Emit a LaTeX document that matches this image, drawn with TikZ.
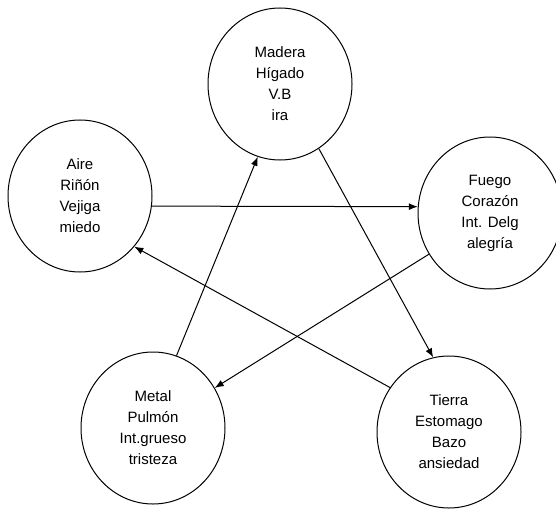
\documentclass[tikz,border=0pt]{standalone}
\usepackage{fontspec}
\setmainfont{Liberation Sans}
\usetikzlibrary{shapes.geometric,arrows.meta}

\begin{document}
\begin{tikzpicture}[x=1pt,y=-1pt,
  elemento/.style={draw,ellipse,line width=1pt,minimum width=144pt,minimum height=152pt,
    inner sep=0pt,align=center,font=\fontsize{15}{21}\selectfont},
  flecha/.style={line width=1pt,-{Latex[length=9pt,width=7pt]}}]
\useasboundingbox (0,0) rectangle (556,508);
% los cinco elementos
\node[elemento] (madera) at (280,84) {Madera\\Hígado\\V.B\\ira};
\node[elemento] (aire) at (80,196) {Aire\\Riñón\\Vejiga\\miedo};
\node[elemento] (fuego) at (490,213) {Fuego\\Corazón\\Int. Delg\\alegría};
\node[elemento] (metal) at (153,428) {Metal\\Pulmón\\Int.grueso\\tristeza};
\node[elemento] (tierra) at (449,432) {Tierra\\Estomago\\Bazo\\ansiedad};
% flechas
\draw[flecha] (aire.-8) -- (fuego.175);
\draw[flecha] (madera.-59) -- (tierra.102);
\draw[flecha] (fuego.214) -- (metal.33);
\draw[flecha] (metal.72) -- (madera.253);
\draw[flecha] (tierra.143) -- (aire.-43);
\end{tikzpicture}
\end{document}
